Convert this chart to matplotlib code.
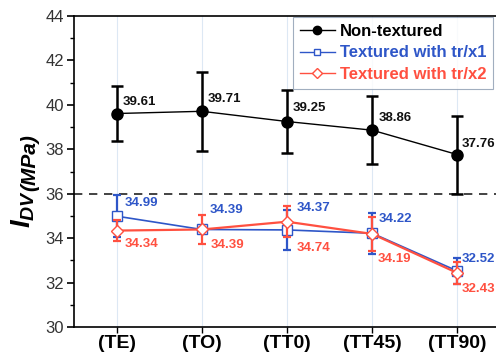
import matplotlib
matplotlib.use("Agg")
import matplotlib.pyplot as plt
from matplotlib.lines import Line2D
import numpy as np

plt.rcParams["font.family"] = ["Liberation Sans", "DejaVu Sans"]
plt.rcParams["mathtext.fontset"] = "custom"
plt.rcParams["mathtext.it"] = "Liberation Sans:italic:bold"
plt.rcParams["mathtext.rm"] = "Liberation Sans:bold"
plt.rcParams["mathtext.bf"] = "Liberation Sans:bold"

categories = ["(TE)", "(TO)", "(TT0)", "(TT45)", "(TT90)"]
non_textured = [39.61, 39.71, 39.25, 38.86, 37.76]
non_textured_err = [1.25, 1.77, 1.42, 1.52, 1.76]
tex_x1 = [34.99, 34.39, 34.37, 34.22, 32.52]
tex_x1_err = [0.96, 0.10, 0.90, 0.93, 0.60]
tex_x2 = [34.34, 34.39, 34.74, 34.19, 32.43]
tex_x2_err = [0.47, 0.66, 0.69, 0.77, 0.50]
ref_line = 36

BLUE = "#2e56c8"
RED = "#ff5040"

fig = plt.figure(figsize=(4.96, 3.56), dpi=100)
ax = fig.add_axes([74/496, 1-327/356, (500-74)/496, (327-16)/356])
x = np.arange(1, len(categories)+1)

for xi in x:
    ax.axvline(xi, color="#dde8f4", lw=0.8, zorder=0)

ax.axhline(ref_line, color="#222222", ls=(0, (5, 4)), lw=1.2, zorder=1)

ax.errorbar(x, non_textured, yerr=non_textured_err, color="black", lw=1.0,
            marker="o", ms=8, elinewidth=1.8, capsize=4, capthick=1.8, zorder=5)
ax.errorbar(x, tex_x1, yerr=tex_x1_err, color=BLUE, lw=1.2,
            marker="s", ms=6.5, mfc="white", mec=BLUE, elinewidth=1.6, capsize=3,
            capthick=1.6, zorder=4)
ax.errorbar(x, tex_x2, yerr=tex_x2_err, color=RED, lw=1.6,
            marker="D", ms=6.5, mfc="white", mec=RED, elinewidth=1.6, capsize=3,
            capthick=1.6, zorder=4.5)

nt_offsets = [(6, 12), (6, 12), (6, 14), (6, 12), (4, 11)]
blue_offsets = [(8, 13), (8, 19), (10, 22), (6, 14), (4, 12)]
red_offsets = [(8, -13), (9, -16), (10, -26), (5, -25), (4, -16)]
LBL = dict(textcoords="offset pixels", fontsize=9.5, fontweight="bold",
           ha="left", va="center", annotation_clip=False)
for xi, v, off in zip(x, non_textured, nt_offsets):
    ax.annotate(f"{v:.2f}", (xi, v), xytext=off, color="#111111", **LBL)
for xi, v, off in zip(x, tex_x1, blue_offsets):
    ax.annotate(f"{v:.2f}", (xi, v), xytext=off, color=BLUE, **LBL)
for xi, v, off in zip(x, tex_x2, red_offsets):
    ax.annotate(f"{v:.2f}", (xi, v), xytext=off, color=RED, **LBL)

ax.set_xlim(0.5, len(categories)+0.5)
ax.set_ylim(30, 44)
ax.set_yticks(np.arange(30, 45, 2))
ax.set_yticks(np.arange(31, 44, 2), minor=True)
ax.set_xticks(x)
ax.set_xticklabels(categories, fontsize=14, fontweight="bold")
ax.tick_params(axis="y", which="major", direction="out", length=5, width=1.2,
               labelsize=12, labelcolor="#333333", pad=2)
ax.tick_params(axis="y", which="minor", direction="out", length=3, width=1.0)
ax.tick_params(axis="x", direction="out", length=4, width=1.0, pad=2)
for s in ["left", "bottom", "top", "right"]:
    ax.spines[s].set_linewidth(1.2)

# y-axis label: large "I_DV" followed by "(MPa)"
fig.text(23/496, 1-228/356, r"$I_{DV}$", rotation=90, fontsize=20,
         ha="center", va="bottom")
fig.text(30/496, 1-191/356, "(MPa)", rotation=90, fontsize=15,
         fontweight="bold", fontstyle="italic", ha="center", va="bottom")

handles = [
    Line2D([], [], color="black", lw=1.0, marker="o", ms=6),
    Line2D([], [], color=BLUE, lw=1.0, marker="s", ms=4.5, mfc="white", mec=BLUE),
    Line2D([], [], color=RED, lw=1.0, marker="D", ms=5, mfc="white", mec=RED),
]
labels = ["Non-textured", "Textured with tr/x1", "Textured with tr/x2"]
leg = ax.legend(handles, labels, loc="upper right",
                bbox_to_anchor=((493-74)/426, 1-1/311),
                frameon=True, fancybox=False, edgecolor="#8a9ab0",
                handlelength=2.1, borderpad=0.4, labelspacing=0.4,
                handletextpad=0.3, borderaxespad=0.0,
                prop={"weight": "bold", "size": 12})
leg.get_frame().set_linewidth(0.8)
for txt, c in zip(leg.get_texts(), ["black", BLUE, RED]):
    txt.set_color(c)

fig.savefig("out.png", dpi=100)
